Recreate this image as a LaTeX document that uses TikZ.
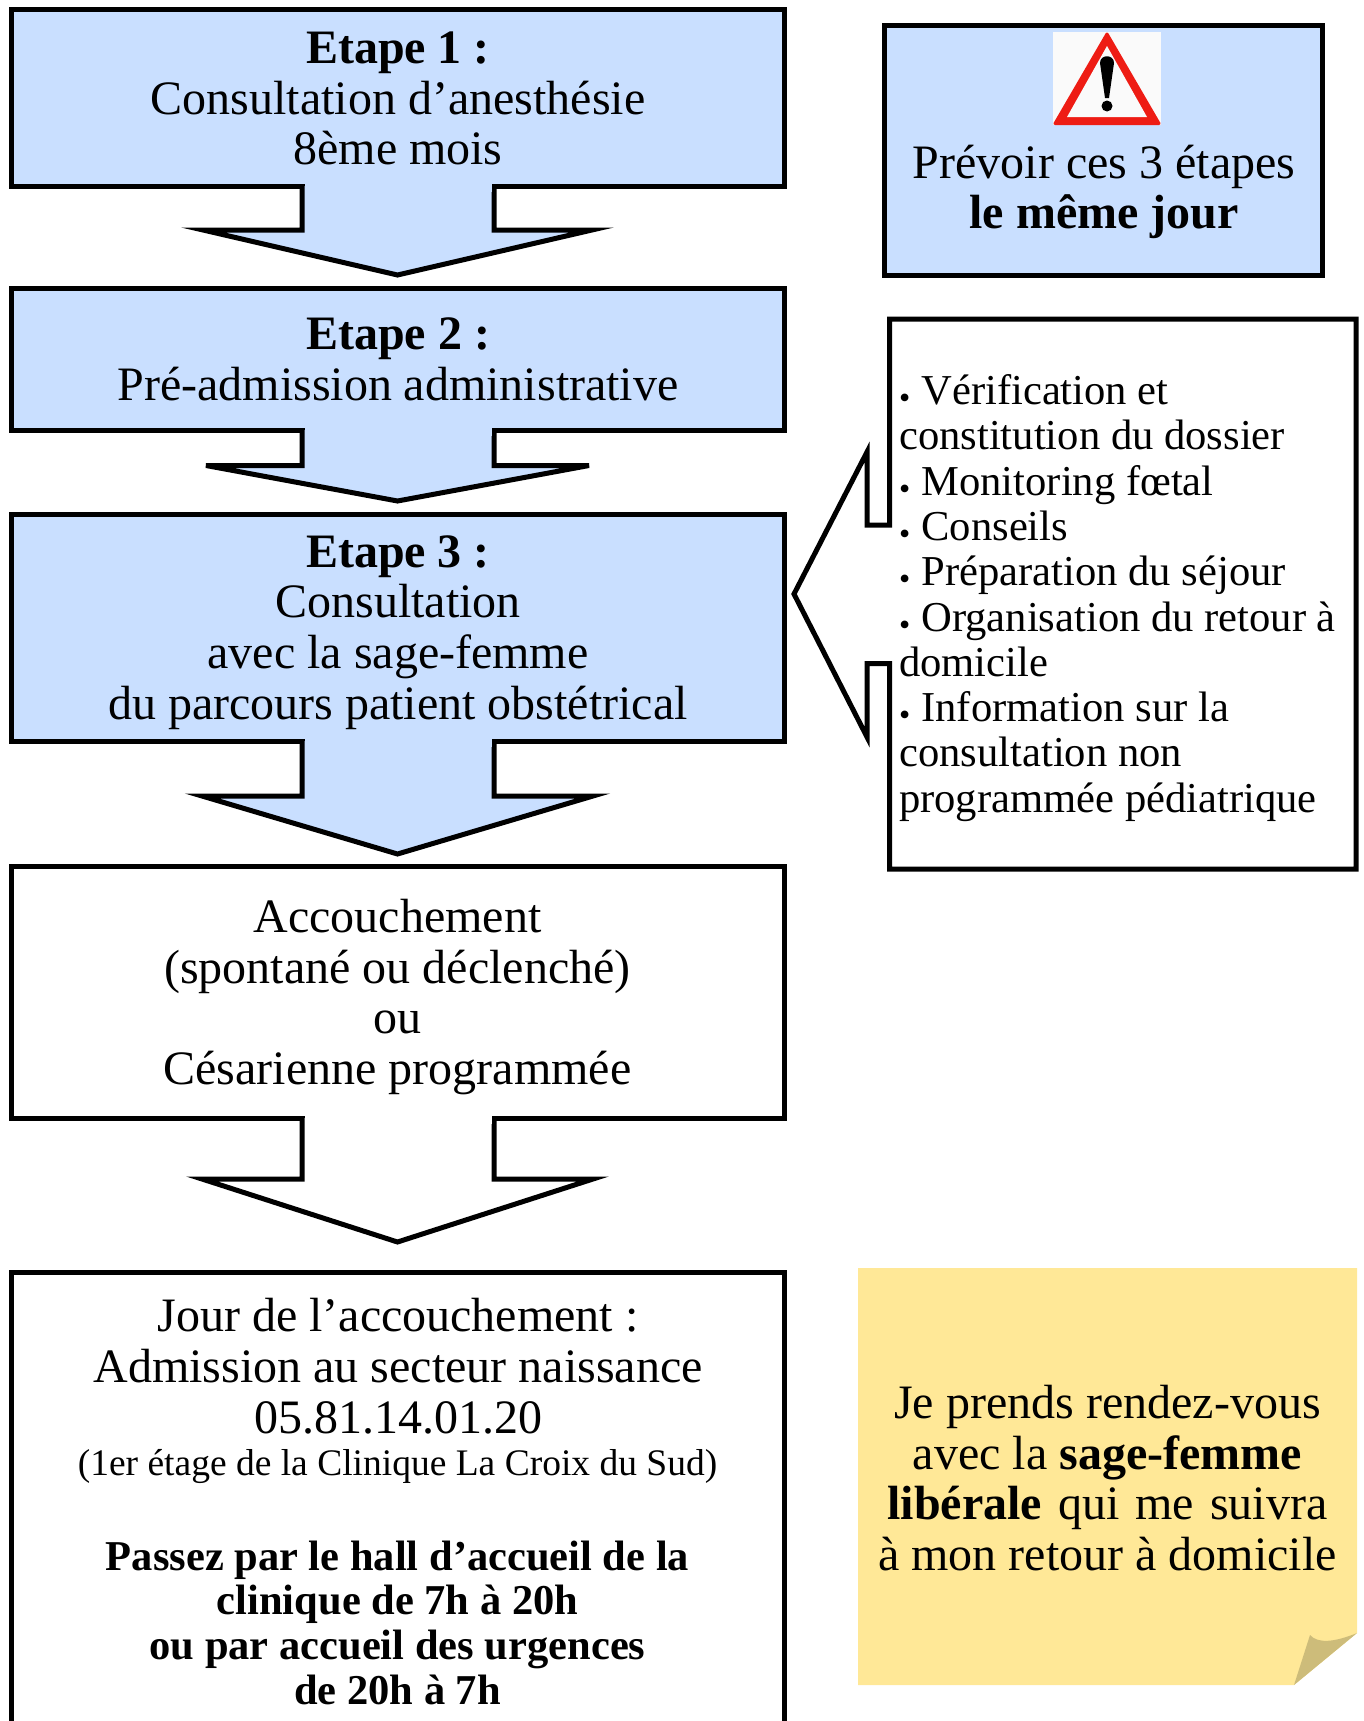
\documentclass[tikz,border=0pt]{standalone}
\usepackage{fontspec}
\setmainfont{Liberation Serif}
\definecolor{stepblue}{HTML}{C9DFFF}
\definecolor{notey}{HTML}{FFE897}
\definecolor{foldc}{HTML}{CDBC7A}
\definecolor{signred}{HTML}{EE1C14}
\newcommand{\bu}{{\fontsize{32}{32}\selectfont\raisebox{-4pt}{•}}\hspace{11pt}}
\tikzset{
 x=1pt,y=-1pt,
 outl/.style={draw=black,line width=5pt,miter limit=10},
 bluebox/.style={outl,fill=stepblue},
 whitebox/.style={outl,fill=white},
 big/.style={font=\fontsize{48}{50.7}\selectfont,align=center,inner sep=0pt},
 mid/.style={font=\fontsize{42.6}{45.3}\selectfont,align=center,inner sep=0pt},
}
\begin{document}
\begin{tikzpicture}
\useasboundingbox (0,0) rectangle (1363,1721);
\clip (0,0) rectangle (1363,1721);
% boxes
\path[bluebox] (11.5,9) rectangle (784.5,186.5);
\path[bluebox] (302,186) -- (302,230) -- (203,230) -- (397.5,275) -- (592,230) -- (494,230) -- (494,186);
\fill[stepblue] (304.5,180) rectangle (491.5,192);
\path[bluebox] (11.5,288) rectangle (784.5,430);
\path[bluebox] (302,430) -- (302,465.5) -- (206,465.5) -- (397.5,501) -- (589,465.5) -- (494,465.5) -- (494,430);
\fill[stepblue] (304.5,424) rectangle (491.5,436);
\path[bluebox] (11.5,514) rectangle (784.5,741);
\path[bluebox] (302,741) -- (302,796) -- (202,796) -- (397.5,854) -- (593,796) -- (494,796) -- (494,741);
\fill[stepblue] (304.5,735) rectangle (491.5,747);
\path[whitebox] (11.5,866) rectangle (784.5,1118);
\path[whitebox] (302,1118) -- (302,1179) -- (202,1179) -- (397.5,1242) -- (593,1179) -- (494,1179) -- (494,1118);
\fill[white] (304.5,1112) rectangle (491.5,1124);
\path[whitebox] (11.5,1740) -- (11.5,1272) -- (784.5,1272) -- (784.5,1740);
% warning
\path[bluebox] (884.5,25.5) rectangle (1322.5,275.5);
\fill[white!98!black] (1053,32) rectangle (1161,125);
\fill[signred,draw=signred,line width=3pt,line join=round] (1107,34) -- (1159,123.5) -- (1055,123.5) -- cycle;
\fill[white!98!black] (1107,46) -- (1147,117) -- (1067,117) -- cycle;
\fill[black] (1100,63) .. controls (1100,54) and (1114,54) .. (1114,63) -- (1109,98) -- (1105,98) -- cycle;
\fill[black] (1107,106) circle (5.5);
% callout
\path[whitebox] (889.5,319) -- (1356,319) -- (1356,869) -- (889.5,869) -- (889.5,663.5) -- (867,663.5) -- (867,737) -- (794,594) -- (867,452) -- (867,525) -- (889.5,525) -- cycle;
% sticky note
\fill[notey] (858,1268) -- (1357,1268) -- (1357,1633) -- (1294,1685) -- (858,1685) -- cycle;
\fill[foldc] (1294,1685) -- (1310,1635) .. controls (1318,1644) and (1335,1642) .. (1357,1633) -- cycle;
% texts
\node[big] (t1) at (398,98.5) {\textbf{Etape 1 :}\\Consultation d’anesthésie\\8ème mois};
\node[big] (t2) at (398,359) {\textbf{Etape 2 :}\\Pré-admission administrative};
\node[big] (t3) at (398,632.5) {\textbf{Etape 3 :}\\Consultation\\avec la sage-femme\\du parcours patient obstétrical};
\node[big] (t4) at (397.5,997) {Accouchement\\(spontané ou déclenché)\\ou\\Césarienne programmée};
\node[big] (t5) at (398,1366) {Jour de l’accouchement :\\Admission au secteur naissance\\05.81.14.01.20};
\node[mid,font=\fontsize{37.5}{42}\selectfont] (t6) at (397.5,1466) {(1er étage de la Clinique La Croix du Sud)};
\node[mid,font=\bfseries\fontsize{42.5}{44.7}\selectfont] (t7) at (397.5,1622.5) {Passez par le hall d’accueil de la\\clinique de 7h à 20h\\ou par accueil des urgences\\de 20h à 7h};
\node[big] (t8) at (1104,192) {Prévoir ces 3 étapes\\\textbf{le même jour}};
\node[mid,align=left,anchor=west] (t9) at (899,598) {\bu Vérification et\\constitution du dossier\\\bu Monitoring fœtal\\\bu Conseils\\\bu Préparation du séjour\\\bu Organisation du retour à\\domicile\\\bu Information sur la\\consultation non\\programmée pédiatrique};
\node[big] (t10) at (1107.5,1478) {Je prends rendez-vous\\avec la \textbf{sage-femme}\\\textbf{libérale}\hspace{4pt} qui\hspace{4pt} me\hspace{4pt} suivra\\à mon retour à domicile};
\end{tikzpicture}
\end{document}
